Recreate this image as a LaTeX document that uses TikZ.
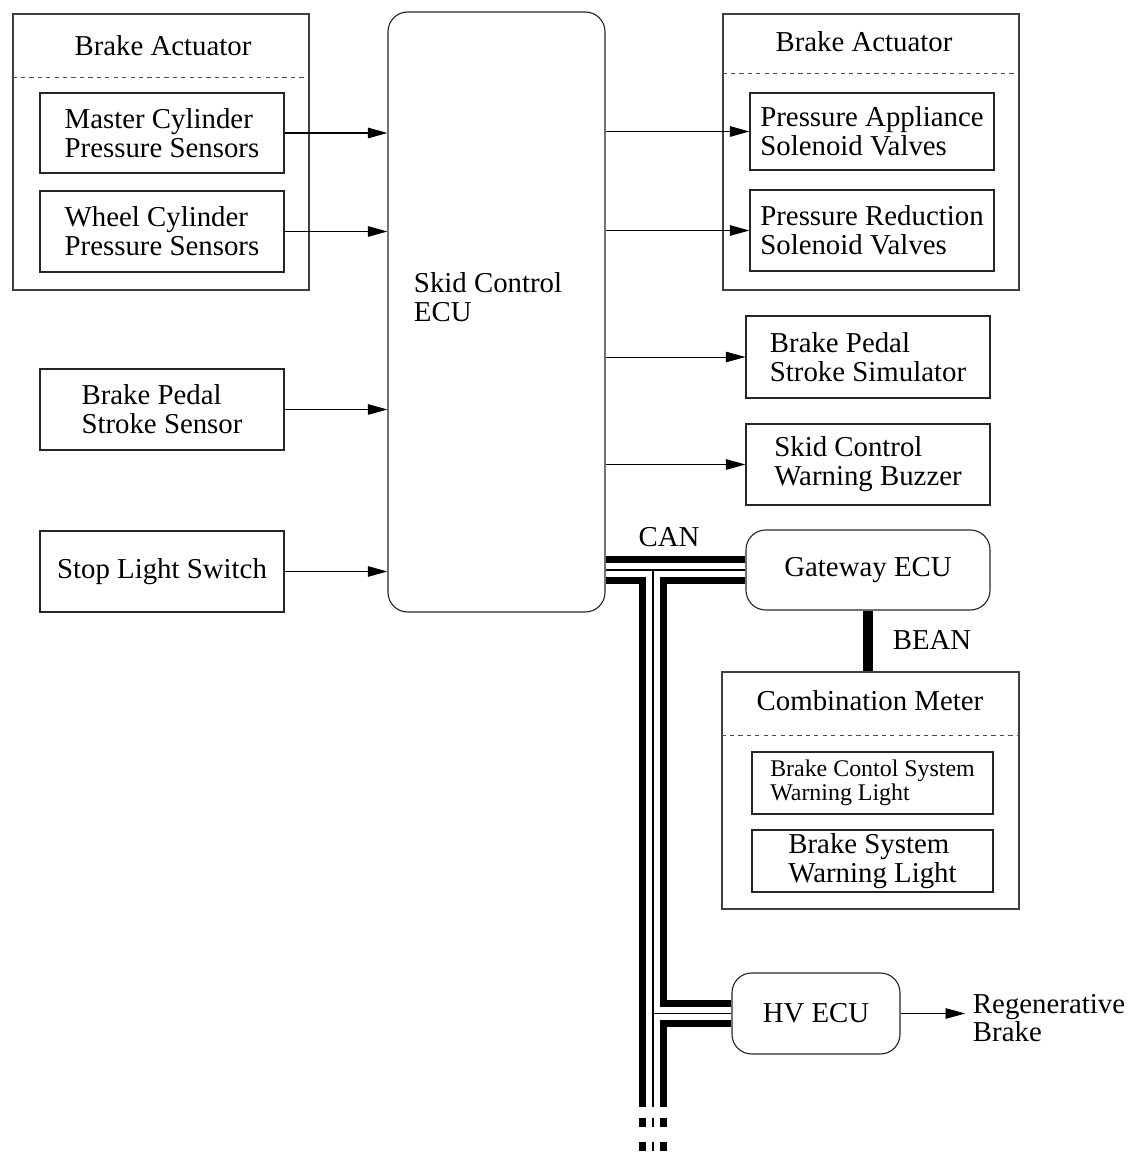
\documentclass[tikz,border=0pt]{standalone}
\usepackage{fontspec}
\setmainfont{Liberation Serif}
\usetikzlibrary{positioning,arrows.meta}

\begin{document}
\begin{tikzpicture}[x=0.025cm, y=-0.025cm, >={Triangle[length=14pt,width=7.5pt]},
  font={\fontsize{20.5}{20.5}\selectfont},
  sz/.style 2 args={minimum width=#1*0.025cm, minimum height=#2*0.025cm},
  box/.style={draw=black!85, line width=0.8pt, inner sep=0pt, align=left},
  grp/.style={draw=black!75, line width=0.8pt, inner sep=0pt},
  ecubox/.style={box, rounded corners=14pt, align=center},
  sep/.style={black!70, dashed, line width=0.6pt},
  sig/.style={->, line width=0.9pt},
  small/.style={font={\fontsize{17}{17}\selectfont}}]
\useasboundingbox (0,0) rectangle (1134,1154);

% inputs
\node[grp, sz={296}{276}] (actIn) at (161,152) {};
\node (actInT) at (163,46) {Brake Actuator};
\draw[sep] (actIn.west |- 0,77) -- (actIn.east |- 0,77);
\node[box, sz={244}{80}] (mcs) at (162,133) {Master Cylinder\\Pressure Sensors};
\node[box, sz={244}{81}] (wcs) at (162,231.5) {Wheel Cylinder\\Pressure Sensors};
\node[box, sz={244}{81}] (bps) at (162,409.5) {Brake Pedal\\Stroke Sensor};
\node[box, sz={244}{81}] (sls) at (162,571.5) {Stop Light Switch};

% skid control ECU
\node[ecubox, sz={217}{600}] (ecu) at (496.5,312) {};
\node[anchor=west, align=left] (ecuT) at (409,297) {Skid Control\\ECU};

% outputs
\node[grp, sz={296}{276}] (actOut) at (871,152) {};
\node (actOutT) at (864,42) {Brake Actuator};
\draw[sep] (actOut.west |- 0,73) -- (actOut.east |- 0,73);
\node[box, sz={244}{77}] (pav) at (872,131.5) {Pressure Appliance\\Solenoid Valves};
\node[box, sz={244}{81}] (prv) at (872,230.5) {Pressure Reduction\\Solenoid Valves};
\node[box, sz={244}{82}] (sim) at (868,357) {Brake Pedal\\Stroke Simulator};
\node[box, sz={244}{81}] (buz) at (868,464.5) {Skid Control\\Warning Buzzer};

% network side
\node[ecubox, sz={244}{80}] (gw) at (868,570) {Gateway ECU};
\node[grp, sz={297}{237}] (cmb) at (870.5,790.5) {};
\node (cmbT) at (870,701) {Combination Meter};
\draw[sep] (cmb.west |- 0,735) -- (cmb.east |- 0,735);
\node[box, small, sz={241}{62}] (bcl) at (872.5,783) {Brake Contol System\\Warning Light};
\node[box, sz={241}{62}] (bsl) at (872.5,861) {Brake System\\Warning Light};
\node[ecubox, sz={168}{81}] (hv) at (816,1013.5) {HV ECU};
\node[anchor=west, align=left] (regen) at (968,1018) {Regenerative\\Brake};
\node (canT) at (669,537) {CAN};
\node (beanT) at (932,640) {BEAN};

% signal lines
\foreach \s in {mcs,wcs,bps,sls}
  \draw[sig] (\s.east) -- (\s.east -| ecu.west);
\foreach \t in {pav,prv,buz}
  \draw[sig] (ecu.east |- \t.west) -- (\t.west);
\draw[sig, line width=0.5pt] (ecu.east |- sim.west) -- (sim.west);
\draw[sig, line width=0.6pt] (hv.east) -- ([xshift=-2pt]hv.east -| regen.west);

% CAN bus
\coordinate (canL) at (ecu.east |- 0,570);
\coordinate (canR) at (gw.west |- canL);
\coordinate (canJ) at (653,570);
\coordinate (hvJ) at (canJ |- hv.west);
\coordinate (busEnd) at (653,1107);
\coordinate (busCut) at (653,1118);
\coordinate (busBot) at (653,1160);
\foreach \w/\c in {19.8pt/black, 9.9pt/white, 1pt/black}{
  \draw[line width=\w, \c] (canL) -- (canR) (canJ) -- (busEnd) (hvJ) -- (hv.west);
  \draw[line width=\w, \c, dash pattern=on 6.4pt off 10.6pt] (busCut) -- (busBot);}

% BEAN
\draw[line width=7pt] (gw.south) -- (gw.south |- cmb.north);
\end{tikzpicture}
\end{document}
